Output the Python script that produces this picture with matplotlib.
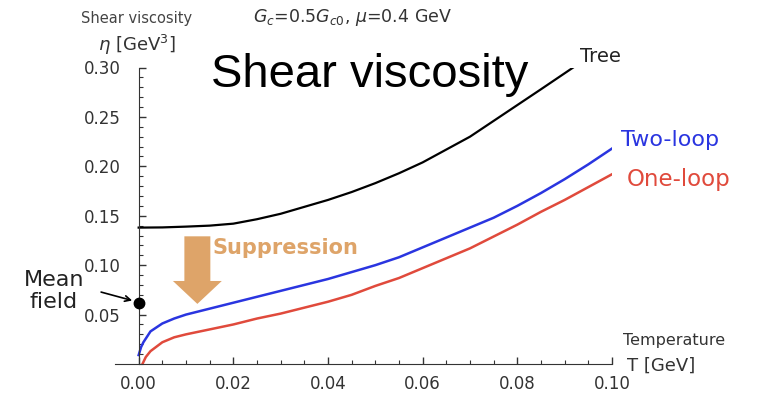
import numpy as np
import matplotlib
matplotlib.use("Agg")
import matplotlib.pyplot as plt
from matplotlib.patches import FancyArrowPatch
from matplotlib.ticker import MultipleLocator, FixedLocator

# values
T_tree = [0.0, 0.005, 0.01, 0.015, 0.02, 0.025, 0.03, 0.035, 0.04, 0.045, 0.05,
          0.055, 0.06, 0.065, 0.07, 0.075, 0.08, 0.085, 0.0918]
eta_tree = [0.138, 0.1382, 0.139, 0.140, 0.142, 0.1465, 0.152, 0.159, 0.166, 0.174, 0.183,
            0.193, 0.204, 0.217, 0.230, 0.246, 0.262, 0.278, 0.300]

T_two = [0.0, 0.0005, 0.001, 0.0025, 0.005, 0.0075, 0.01, 0.015, 0.02, 0.025, 0.03,
         0.035, 0.04, 0.045, 0.05, 0.055, 0.06, 0.065, 0.07, 0.075, 0.08,
         0.085, 0.09, 0.095, 0.10]
eta_two = [0.009, 0.017, 0.022, 0.033, 0.041, 0.046, 0.050, 0.056, 0.062, 0.068, 0.074,
           0.080, 0.086, 0.093, 0.100, 0.108, 0.118, 0.128, 0.138, 0.148, 0.160,
           0.173, 0.187, 0.202, 0.218]

T_one = [0.0008, 0.0015, 0.0025, 0.005, 0.0075, 0.01, 0.015, 0.02, 0.025, 0.03,
         0.035, 0.04, 0.045, 0.05, 0.055, 0.06, 0.065, 0.07, 0.075, 0.08,
         0.085, 0.09, 0.095, 0.10]
eta_one = [0.0, 0.007, 0.013, 0.022, 0.027, 0.030, 0.035, 0.040, 0.046, 0.051,
           0.057, 0.063, 0.070, 0.079, 0.087, 0.097, 0.107, 0.117, 0.129, 0.141,
           0.154, 0.166, 0.179, 0.192]

mean_field_T = 0.0
mean_field_eta = 0.062

x_ticks = [0.00, 0.02, 0.04, 0.06, 0.08, 0.10]
y_ticks = [0.05, 0.10, 0.15, 0.20, 0.25, 0.30]

gray = "#333333"
blue = "#2a35e0"
red = "#e04a3c"
orange = "#dea469"

fig = plt.figure(figsize=(7.57, 3.98), dpi=100)
ax = fig.add_axes([115 / 757, 1 - 364 / 398, (612 - 115) / 757, (364 - 67.5) / 398])

ax.plot(T_tree, eta_tree, color="black", lw=1.6, solid_joinstyle="round")
ax.plot(T_two, eta_two, color=blue, lw=1.8, solid_joinstyle="round")
ax.plot(T_one, eta_one, color=red, lw=1.8, solid_joinstyle="round")
ax.plot([mean_field_T], [mean_field_eta], "o", color="black", ms=7.5, clip_on=False, zorder=5)

ax.set_xlim(-0.005, 0.1)
ax.set_ylim(0, 0.30)

for s in ["top", "right"]:
    ax.spines[s].set_visible(False)
ax.spines["left"].set_position(("data", 0))
ax.spines["left"].set_color(gray)
ax.spines["bottom"].set_color(gray)

ax.xaxis.set_major_locator(FixedLocator(x_ticks))
ax.xaxis.set_minor_locator(FixedLocator(np.arange(0.005, 0.1, 0.005)))
ax.yaxis.set_major_locator(FixedLocator(y_ticks))
ax.yaxis.set_minor_locator(MultipleLocator(0.01))
ax.set_xticklabels([f"{v:.2f}" for v in x_ticks])
ax.set_yticklabels([f"{v:.2f}" for v in y_ticks])
ax.tick_params(axis="both", which="both", direction="in", colors=gray, labelsize=12)
ax.tick_params(which="major", length=5, width=1)
ax.tick_params(which="minor", length=3, width=0.8)
ax.tick_params(axis="x", pad=8)
ax.tick_params(axis="y", pad=13)

def fx(px):
    return px / 757

def fy(py):
    return 1 - py / 398

fig.text(fx(137), fy(18), "Shear viscosity", ha="center", va="center", fontsize=10.5, color="#444444")
fig.text(fx(137), fy(45), r"$\eta$ [GeV$^3$]", ha="center", va="center", fontsize=13, color=gray)
fig.text(fx(253), fy(18), r"$G_c$=0.5$G_{c0}$, $\mu$=0.4 GeV", ha="left", va="center",
         fontsize=12.5, color=gray)
fig.text(fx(370), fy(75), "Shear viscosity", ha="center", va="center", fontsize=34,
         family="Liberation Sans", color="black")
fig.text(fx(580), fy(57), "Tree", ha="left", va="center", fontsize=14, color="#222222")
fig.text(fx(621), fy(140), "Two-loop", ha="left", va="center", fontsize=16, color=blue)
fig.text(fx(627), fy(180), "One-loop", ha="left", va="center", fontsize=16.5, color=red)
fig.text(fx(54), fy(291), "Mean\nfield", ha="center", va="center", fontsize=16,
         color="#222222", linespacing=1.15)
fig.text(fx(213), fy(248), "Suppression", ha="left", va="center", fontsize=15,
         fontweight="bold", color=orange)
fig.text(fx(623), fy(340), "Temperature", ha="left", va="center", fontsize=11.5, color=gray)
fig.text(fx(627), fy(366), "T [GeV]", ha="left", va="center", fontsize=13, color=gray)

ax.annotate("", xy=(-0.0008, 0.0635), xytext=(-0.0085, 0.0735),
            xycoords="data", textcoords="data", annotation_clip=False,
            arrowprops=dict(arrowstyle="->", color="black", lw=1.2))

big = FancyArrowPatch((0.0124, 0.132), (0.0124, 0.058),
                      arrowstyle="simple,head_length=1.5,head_width=3.2,tail_width=1.7",
                      mutation_scale=11, color=orange, lw=0)
ax.add_patch(big)

fig.savefig("out.png", dpi=100)
